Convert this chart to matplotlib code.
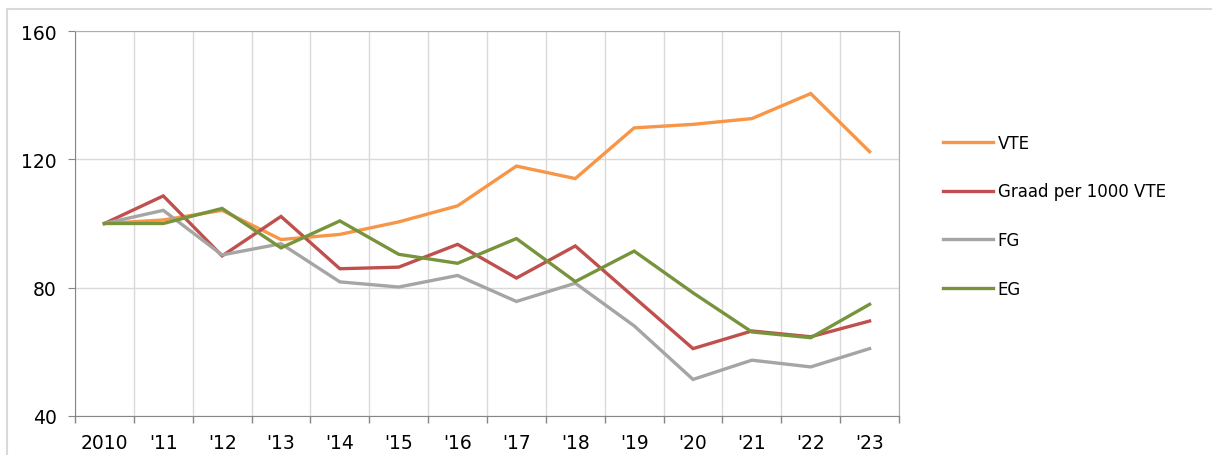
import matplotlib.pyplot as plt
from matplotlib.patches import Rectangle

# data (index, 2010 = 100)
jaren = ["2010", "'11", "'12", "'13", "'14", "'15", "'16", "'17", "'18", "'19", "'20", "'21", "'22", "'23"]
vte = [100, 101.1, 104.1, 95.0, 96.6, 100.5, 105.5, 117.9, 114.0, 129.8, 130.9, 132.7, 140.5, 122.4]
graad = [100, 108.6, 89.9, 102.2, 85.9, 86.4, 93.5, 83.0, 93.0, 77.0, 61.0, 66.5, 64.7, 69.6]
fg = [100, 104.1, 90.2, 93.7, 81.8, 80.2, 83.8, 75.7, 81.4, 68.1, 51.4, 57.4, 55.3, 61.0]
eg = [100, 100, 104.7, 92.4, 100.8, 90.4, 87.6, 95.3, 81.9, 91.4, 78.4, 66.2, 64.4, 74.8]

reeksen = [("VTE", vte, "#F79646"),
           ("Graad per 1000 VTE", graad, "#C0504D"),
           ("FG", fg, "#A5A5A5"),
           ("EG", eg, "#77933C")]

plt.rcParams['font.family'] = 'DejaVu Sans'

fig = plt.figure(figsize=(12.12, 4.56), dpi=100)
W, H = 1212, 456
ax = fig.add_axes([75 / W, 39 / H, 824 / W, 385 / H])

# outer chart border (partly cropped in the reference)
fig.patches.append(Rectangle((7 / W, -0.1), 1.2, (446 + 46) / H, transform=fig.transFigure,
                             fill=False, edgecolor="#D9D9D9", linewidth=1.5))

x = list(range(len(jaren)))
for naam, waarden, kleur in reeksen:
    ax.plot(x, waarden, color=kleur, lw=2.4, label=naam, solid_joinstyle='miter')

ax.set_xlim(-0.5, len(jaren) - 0.5)
ax.set_ylim(40, 160)
ax.set_yticks([40, 80, 120, 160])
ax.set_xticks(x)
ax.set_xticklabels(jaren)
ax.set_xticks([i - 0.5 for i in range(len(jaren) + 1)], minor=True)

ax.tick_params(axis='x', which='major', length=0, pad=12, labelsize=13.5)
ax.tick_params(axis='x', which='minor', length=5, color="#868686", width=1)
ax.tick_params(axis='y', length=5, color="#868686", pad=8, labelsize=13.5)

ax.grid(True, axis='y', color="#D9D9D9", lw=1)
ax.grid(True, axis='x', which='minor', color="#D9D9D9", lw=1)
ax.set_axisbelow(True)

ax.spines['left'].set_color("#868686")
ax.spines['bottom'].set_color("#868686")
ax.spines['top'].set_color("#95B3D7")
ax.spines['right'].set_color("#95B3D7")

fig.legend(loc='upper left', bbox_to_anchor=(936 / W, 1 - 128 / H), frameon=False,
           fontsize=12, handlelength=3.0, handletextpad=0.3, labelspacing=1.84,
           borderaxespad=0)

fig.savefig("out.png", dpi=100)
